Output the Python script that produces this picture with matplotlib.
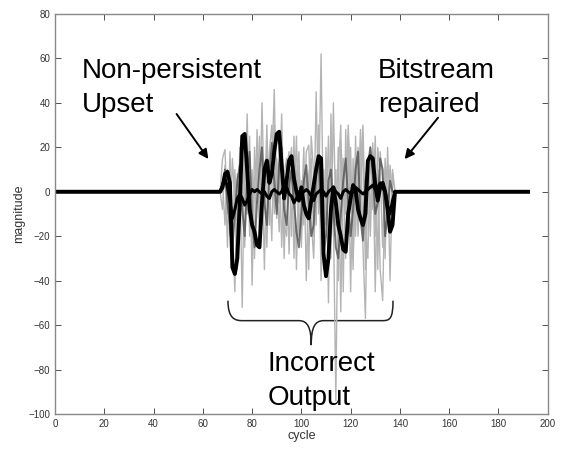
import numpy as np
import matplotlib
matplotlib.use("Agg")
import matplotlib.pyplot as plt
from matplotlib.path import Path
from matplotlib.patches import PathPatch

plt.rcParams['font.family'] = ['Liberation Sans', 'DejaVu Sans']

# cycles of the run; the upset disturbs cycles 67..138
cycles = np.arange(0, 193)
upset_start = 67

# thick black output (main)
black_main = [0, 2, 8, 9, 4, -34, -37, -30, -5, 25, 26, 10, -8, -15, -18, -24,
              -25, -5, 10, 14, 4, 8, 18, 26, 27, 12, -3, 5, 14, 16, 6, 0,
              -4, 2, -6, -10, -12, -4, 3, 10, 16, 15, -28, -38, -30, -8, 2, -5,
              -15, -20, -26, -27, -10, -3, 3, 1, -8, -12, -15, -10, 14, 16, 15, 3,
              -4, 2, 4, 0, -8, -18, -15, 0]

# thick black output (small deviations)
black_small = [0, 3, 6, 2, -4, -12, -8, -3, -1, -3, -6, -4, -1, 1, 0, 1,
               0, -1, 0, -2, -3, 0, 1, 0, -1, 0, 3, 2, -1, -2, -5, -3,
               0, -1, 0, 1, 0, -2, -4, -1, 0, 1, 0, -2, 0, 1, 2, 0,
               -1, -3, 0, 1, 0, -1, 0, 2, 1, 0, -1, 0, 1, 2, 3, 1,
               2, 4, 2, 0, -6, -10, -4, 0]

# dark grey output
dark_grey = [0, 3, 10, -5, -15, -25, -10, 5, 12, -8, -20, 5, 18, -12, -25, -5,
             10, 20, -5, -15, 8, 22, 5, -10, 12, 20, -8, -15, 3, 10, -5, -18,
             -25, -10, 5, 12, -5, -20, -15, 8, 15, -10, -28, -20, 5, 10, -8, -25,
             -30, -10, 5, 15, -5, -20, -8, 10, 18, -12, -22, 5, 12, 20, 8, -10,
             -5, 15, 10, -20, -10, 5, 0, 0]

# light grey outputs
grey_1 = [0, 15, 19, -10, 5, -30, 10, -20, 12, -52, 20, -10, 25, -42, 5, 18,
          -20, 40, -5, 30, -15, 10, 46, -12, 20, -25, 8, 15, -28, 12, -8, 25,
          -20, 5, -15, 18, 21, -12, -30, 10, -5, 62, -20, 15, -25, 5, -10, -94,
          10, 30, -45, 28, -15, 20, -30, 10, -5, 28, -25, -57, 15, -10, 22, -20,
          10, -35, -49, 5, 12, -40, 8, 0]

grey_2 = [0, -8, 12, -25, 18, -15, -45, 8, -12, 22, -5, 35, -20, 10, -30, 28,
          -10, 15, -35, 20, 5, -22, 30, 8, -18, 22, -30, 10, 18, -20, 25, -35,
          12, -10, 20, -40, 8, 15, -20, 45, -10, 12, -35, 20, -50, 35, -20, 10,
          -40, 22, 5, -30, 25, -45, 15, -20, 20, -10, 25, -35, 10, -20, 18, -45,
          20, 8, -25, 15, -10, 12, -5, 0]

grey_3 = [0, 5, -15, 10, -20, 15, -5, -35, 20, 5, -25, 15, 10, -30, 20, -5,
          25, -15, 12, -25, 18, 30, -10, 15, -5, 35, -15, -20, 10, 20, -30, 8,
          18, -25, 10, 5, -35, 25, 8, -15, 30, -40, 10, -15, 25, -30, 40, -15,
          20, -54, 15, -10, 30, 5, -35, 25, -20, 10, 30, -15, -30, 20, -8, 25,
          -35, 18, 5, -30, 20, -15, 10, 0]


def full_series(vals):
    """pad the disturbed values with the zero output before and after"""
    series = np.zeros(len(cycles))
    series[upset_start:upset_start + len(vals)] = vals
    return series


fig = plt.figure(figsize=(5.81, 4.5), dpi=100)
ax = fig.add_axes([0.0947, 0.08, 0.848, 0.889])

for vals in (grey_1, grey_2, grey_3):
    ax.plot(cycles, full_series(vals), color="#b4b4b4", lw=1.0)
ax.plot(cycles, full_series(dark_grey), color="#505050", lw=1.4, alpha=0.8)
ax.plot(cycles, full_series(black_small), color="black", lw=2.2)
ax.plot(cycles, full_series(black_main), color="black", lw=2.8)

ax.set_xlim(0, 200)
ax.set_ylim(-100, 80)
ax.set_xticks(np.arange(0, 201, 20))
ax.set_yticks(np.arange(-100, 81, 20))
ax.tick_params(direction="in", top=True, right=True, labelsize=7,
               length=4, width=0.6, colors="#333333")
for spine in ax.spines.values():
    spine.set_color("#888888")
    spine.set_linewidth(1.0)
ax.set_xlabel("cycle", fontsize=9, color="#333333", labelpad=1)
ax.set_ylabel("magnitude", fontsize=9, color="#333333", labelpad=2)

# annotations
big = dict(fontsize=20, color="black", va="baseline", ha="left")
ax.text(11, 51, "Non-persistent", **big)
ax.text(11, 36, "Upset", **big)
ax.text(131, 51, "Bitstream", **big)
ax.text(131, 36, "repaired", **big)
ax.text(86.4, -80.6, "Incorrect", **big)
ax.text(86.4, -95.8, "Output", **big)

arrow = dict(arrowstyle="-|>", color="black", lw=1.4, mutation_scale=14)
ax.annotate("", xy=(62.9, 13.7), xytext=(48.7, 36), arrowprops=arrow)
ax.annotate("", xy=(141.2, 13.7), xytext=(156.2, 34.3), arrowprops=arrow)

# curly brace under the disturbed region
verts = [(70.2, -49), (70.2, -57), (73, -58), (76, -58),
         (99, -58),
         (102.5, -58), (104, -61), (104, -69),
         (104, -61), (105.5, -58), (109, -58),
         (133, -58),
         (136, -58), (137.2, -57), (137.2, -49)]
codes = [Path.MOVETO, Path.CURVE4, Path.CURVE4, Path.CURVE4,
         Path.LINETO,
         Path.CURVE4, Path.CURVE4, Path.CURVE4,
         Path.CURVE4, Path.CURVE4, Path.CURVE4,
         Path.LINETO,
         Path.CURVE4, Path.CURVE4, Path.CURVE4]
ax.add_patch(PathPatch(Path(verts, codes), fill=False, lw=1.1, color="#222222"))

fig.savefig("out.png", dpi=100)
